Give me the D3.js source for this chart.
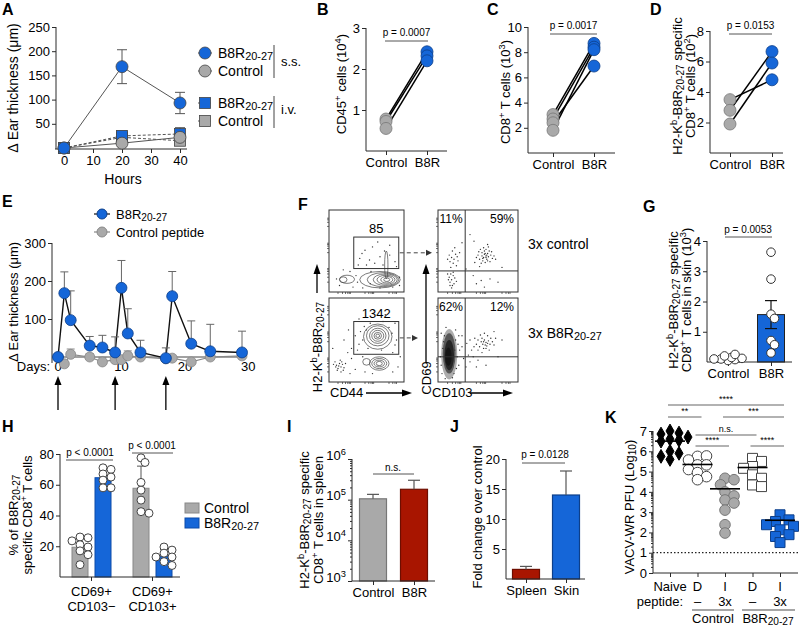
<!DOCTYPE html>
<html><head><meta charset="utf-8">
<script src="https://cdn.jsdelivr.net/npm/d3@7"></script>
<style>
body{margin:0;background:#fff;}
svg{font-family:"Liberation Sans",Arial,Helvetica,sans-serif;}
</style></head><body>
<svg id="c" width="800" height="629"></svg>
<script>
// ================= DATA =================
// Panel A
const hoursA = [0, 20, 40];
const aSsB8R = [0, 168, 93];
const aSsB8RErr = [0, 35, 22];
const aSsCtrl = [0, 10, 22];
const aSsCtrlErr = [0, 3, 6];
const aIvB8R = [0, 25, 29];
const aIvB8RErr = [0, 10, 13];
const aIvCtrl = [0, 22, 15];
const aIvCtrlErr = [0, 9, 8];
const aTicksY = [50, 100, 150, 200, 250];
const aTicksX = [0, 10, 20, 30, 40];
// Panel B
const pairCats = ["Control", "B8R"];
const bCtrl = [0.78, 0.72, 0.55];
const bB8R = [2.42, 2.32, 2.20];
const bTicks = [1, 2, 3];
// Panel C
const cCtrl = [3.05, 2.7, 2.4, 1.8];
const cB8R = [8.7, 8.4, 6.9, 8.2];
const cTicks = [2, 4, 6, 8, 10];
// Panel D
const dCtrl = [3.5, 2.8, 1.9];
const dB8R = [4.8, 6.65, 5.9];
const dTicks = [2, 4, 6, 8];
// Panel E
const daysE = [0, 1, 2, 5, 7, 9, 10, 11, 13, 17, 18, 21, 24, 29];
const eB8R = [0, 168, 97, 30, 25, 12, 182, 62, 12, -3, 160, 35, 15, 12];
const eB8RErr = [0, 56, 77, 24, 32, 41, 72, 65, 32, 27, 65, 60, 71, 56];
const eCtrl = [0, -18, 7, 0, -13, -7, -7, 3, 0, -5, -3, -13, 0, 3];
const eCtrlErr = [0, 0, 14, 9, 12, 0, 0, 13, 0, 0, 0, 0, 0, 0];
const eTicksY = [100, 200, 300];
const eTicksX = [0, 10, 20, 30];
const eArrowDays = [0, 9, 17];
// Panel F (flow cytometry, axis units 0-100)
const fGateCounts = ["85", "1342"];
const fGates = [[33, 93, 28.6, 67], [33, 93, 33, 72]];
const fQuad = [[34, 25.7], [34, 30]];
const fPct = [["11%", "59%"], ["62%", "12%"]];
const fRowLabels = ["3x control", "3x B8R_{20-27}"];
// contour rings [cx, cy, rx, ry]
const fContTop = [[68,15,27,10],[72,15,21,8.5],[75,15,16,7],[76,15,12,5.5],[77,15,8,4],[77,15,4,2.2],
  [24,15.5,10,5],[19,15,5,3.5],[76.4,33,2.2,17]];
const fContBot = [[65,54,19,15],[65,55,15,12],[65,55,11,9],[65,55,8,6.5],[65,55,5,4],[65,55,2.5,2],
  [67,22,13,8],[67,22,10,6],[67,22,7,4],[67,22,4,2.5],[50,24,5,4]];
const fDotsTL = [[41,41],[54,39],[68,43],[81,45],[88,37],[50,33],[61,35],[72,33],[48,51],[81,57],[65,61],
  [39,33],[28,25],[10,16],[14,8],[32,6],[45,5],[68,5],[85,6],[94,18],[94,8],[56,25],[36,20],[19,27],[90,31],
  [44,47],[58,55],[74,50],[38,12],[55,10]];
const fDotsBL = [[10,20],[14,22],[16,18],[12,16],[18,21],[8,24],[15,26],[20,17],[11,14],[17,24],[13,19],[22,22],
  [9,18],[19,14],[6,21],[16,12],[30,40],[40,45],[25,35],[45,30],[35,55],[50,62],[55,70],[80,65],[90,50],[85,35],
  [95,30],[75,80],[60,85],[40,75],[30,28],[48,12],[58,10],[85,12],[92,18],[35,15],[28,10],[5,40],[20,50],[45,50],
  [88,70],[70,38],[52,40],[42,60],[88,44],[26,62],[72,72],[47,66],[84,58],[38,38]];
const fDotsTR = [[50,45],[52,40],[55,48],[57,42],[58,46],[60,44],[61,40],[62,47],[63,43],[64,50],[56,38],[59,36],
  [54,35],[66,45],[68,41],[53,52],[57,54],[60,52],[62,38],[65,37],[48,42],[51,49],[58,50],[63,55],[67,49],[70,44],
  [55,44],[60,42],[59,47],[61,45],[56,41],[46,36],[72,40],[62,58],[52,31],
  [14,45],[17,42],[20,40],[22,46],[18,50],[15,37],[24,43],[19,35],[12,40],[21,54],[25,38],[16,30],[27,48],[23,32],
  [14,18],[17,15],[19,20],[15,12],[20,10],[16,22],[18,8],[13,15],[21,17],[17,5],[12,22],[23,13],[15,8],[19,24],
  [48,10],[54,14],[65,16],[58,6],[75,12],[44,20],[30,60],[40,70],[80,30],[45,62],[35,28]];
const fDotsBR = [[4,20],[6,40],[8,55],[22,50],[24,30],[20,10],[25,45],[5,10],[22,62],[10,65],[18,5],[26,20],[3,30],[27,38],
  [7,48],[21,38],[9,4],[23,16],[4,58],[26,55],
  [48,45],[50,50],[52,42],[54,48],[55,52],[56,45],[57,40],[58,50],[60,47],[61,43],[62,55],[63,49],[65,45],[66,52],
  [53,56],[58,58],[60,40],[64,38],[68,48],[70,44],[50,38],[46,52],[55,35],[59,44],[62,46],[57,48],[72,52],[45,42],
  [30,42],[36,46],[40,50],[42,38],[32,28],[40,24],[50,26],[38,32],[44,30],[30,55],[35,18],[48,18],[60,20],[75,30],
  [80,50],[70,60]];
const fBlob = [[14,33,10,30],[14,34,8,24],[14,32,6,18],[13,30,4,11]];
const fTicks = [12, 18, 22, 25, 27, 28.5, 48, 53, 56, 58, 59.5, 80, 85, 88, 90];
// Panel G
const gCats = ["Control", "B8R"];
const gCtrl = [0.05, 0.08, 0.1, 0.12, 0.15, 0.2, 0.25, 0.1];
const gB8R = [3.63, 2.74, 1.58, 1.44, 0.71, 0.57, 0.30];
const gTicks = [1, 2, 3, 4];
// Panel H
const hGroups = [["CD69+", "CD103−"], ["CD69+", "CD103+"]];
const hSeries = ["Control", "B8R_{20-27}"];
const hCtrl1 = [26, 25.5, 23.5, 21, 19.5, 17, 14.5, 8];
const hB8R1 = [71, 70, 67, 65, 63, 58, 58];
const hCtrl2 = [77.5, 74.5, 61.5, 56.5, 50, 42.5, 41.5];
const hB8R2 = [19.5, 17.5, 15.5, 13, 13, 10, 7.5];
const hTicks = [20, 40, 60, 80];
const hP = ["p < 0.0001", "p < 0.0001"];
// Panel I
const iCats = ["Control", "B8R"];
const iVals = [1.05e5, 1.8e5];
const iErr = [0.3e5, 1.2e5];
const iTicks = [1e3, 1e4, 1e5, 1e6];
// Panel J
const jCats = ["Spleen", "Skin"];
const jVals = [1.6, 14];
const jErr = [0.5, 4];
const jTicks = [5, 10, 15, 20];
// Panel K
const kGroups = ["Naive", "DC", "IC", "DB", "IB"];
const kRow1 = ["Naive", "D", "I", "D", "I"];
const kRow2 = ["", "–", "3x", "–", "3x"];
const kNaive = [7.0, 6.9, 6.85, 6.7, 6.6, 6.55, 6.5, 6.0, 5.9, 5.75, 5.6];
const kDC = [5.75, 5.77, 5.57, 5.33, 5.33, 5.1, 4.95, 4.75, 4.6];
const kIC = [4.67, 4.6, 4.35, 4.0, 3.8, 3.6, 3.45, 3.1, 2.38, 1.97];
const kDB = [5.65, 5.5, 5.25, 5.16, 4.84, 4.67, 4.34, 4.26];
const kIB = [2.87, 2.62, 2.54, 2.38, 2.13, 2.3, 1.89, 1.8, 1.5];
const kMean = [6.5, 5.35, 4.15, 5.2, 2.6];
const kTicks = [0, 1, 2, 3, 4, 5, 6, 7];
const kSig = [[0, 4, "****"], [0, 1, "**"], [2, 4, "***"], [1, 3, "n.s."], [1, 2, "****"], [3, 4, "****"]];

// ================= HELPERS =================
const svg = d3.select('#c');
svg.append('rect').attr('width', 800).attr('height', 629).attr('fill', '#fff');
const BLUE = '#1566d8', GRAY = '#a9a9a9', RED = '#a81500', DARK = '#2a2a2a';

function rich(t, str, size) {
  const parts = str.split(/(\^\{[^}]*\}|_\{[^}]*\})/).filter(p => p !== '');
  let cur = 0;
  parts.forEach(p => {
    let d = 0, fs = size, txt = p;
    if (p.startsWith('^{')) { d = -0.38 * size; fs = 0.72 * size; txt = p.slice(2, -1); }
    else if (p.startsWith('_{')) { d = 0.15 * size; fs = 0.78 * size; txt = p.slice(2, -1); }
    t.append('tspan').attr('dy', (d - cur).toFixed(2)).attr('font-size', fs).text(txt);
    cur = d;
  });
  return t;
}
function label(g, x, y, str, opt = {}) {
  const size = opt.size || 13;
  const t = g.append('text').attr('x', x).attr('y', y).attr('font-size', size)
    .attr('text-anchor', opt.anchor || 'middle').attr('fill', opt.fill || '#000');
  if (opt.rotate) t.attr('transform', `rotate(${opt.rotate},${x},${y})`);
  if (opt.weight) t.attr('font-weight', opt.weight);
  rich(t, str, size);
  return t;
}
function hline(g, x1, x2, y, color, w, dash) {
  const l = g.append('line').attr('x1', x1).attr('x2', x2).attr('y1', y).attr('y2', y)
    .attr('stroke', color || DARK).attr('stroke-width', w || 1);
  if (dash) l.attr('stroke-dasharray', dash);
  return l;
}
function vline(g, x, y1, y2, color, w) {
  return g.append('line').attr('x1', x).attr('x2', x).attr('y1', y1).attr('y2', y2)
    .attr('stroke', color || DARK).attr('stroke-width', w || 1);
}
function yAxis(g, scale, x, ticks, y0, y1, opt = {}) {
  const a = g.append('g').attr('transform', `translate(${x},0)`)
    .call(d3.axisLeft(scale).tickValues(ticks).tickSize(opt.tick || 4).tickSizeOuter(0)
      .tickPadding(opt.pad || 2).tickFormat(opt.fmt || (d => d)));
  a.attr('font-family', null).attr('font-size', opt.size || 13);
  a.select('.domain').remove();
  a.selectAll('.tick line').attr('stroke', DARK);
  a.selectAll('.tick text').attr('fill', '#000');
  a.append('line').attr('y1', y0).attr('y2', y1).attr('stroke', DARK);
  return a;
}
function xAxis(g, scale, y, ticks, x0, x1, opt = {}) {
  const a = g.append('g').attr('transform', `translate(0,${y})`)
    .call(d3.axisBottom(scale).tickValues(ticks).tickSize(opt.tick || 4).tickSizeOuter(0)
      .tickPadding(opt.pad || 3).tickFormat(opt.fmt || (d => d)));
  a.attr('font-family', null).attr('font-size', opt.size || 13);
  a.select('.domain').remove();
  a.selectAll('.tick line').attr('stroke', DARK);
  a.selectAll('.tick text').attr('fill', '#000');
  a.append('line').attr('x1', x0).attr('x2', x1).attr('stroke', DARK);
  return a;
}
function errBar(g, x, yFrom, yTo, cap, color, w) {
  vline(g, x, yFrom, yTo, color, w || 1);
  hline(g, x - cap / 2, x + cap / 2, yTo, color, w || 1);
}
// simple beeswarm layout; ov < 1 allows partial overlap
function swarm(vals, ys, cx, r, step, ov) {
  const placed = [];
  const f = ov || 0.9;
  return vals.map(v => {
    const y = ys(v); let x = cx;
    for (let k = 0; k < 60; k++) {
      const off = k === 0 ? 0 : (k % 2 ? 1 : -1) * Math.ceil(k / 2) * step;
      const cand = cx + off;
      if (placed.every(p => (p.x - cand) ** 2 + (p.y - y) ** 2 >= (2 * r * f) ** 2)) { x = cand; break; }
    }
    const p = { x, y, v }; placed.push(p); return p;
  });
}
function letter(x, y, s) { label(svg, x, y, s, { size: 16, weight: 'bold', anchor: 'start' }); }

// ================= PANEL A =================
{
  const g = svg.append('g');
  const x = d3.scaleLinear().domain([0, 40]).range([64, 180]);
  const y = d3.scaleLinear().domain([0, 250]).range([148, 27]);
  yAxis(g, y, 56, aTicksY, 27, 149);
  xAxis(g, x, 149, aTicksX, 55, 187);
  label(g, 123, 184, 'Hours', { size: 14 });
  label(g, 18, 88, 'Δ Ear thickness (μm)', { size: 14, rotate: -90 });
  const series = [
    { v: aIvCtrl, e: aIvCtrlErr, shape: 'square', fill: GRAY, dash: '3,2' },
    { v: aIvB8R, e: aIvB8RErr, shape: 'square', fill: BLUE, dash: '3,2' },
    { v: aSsCtrl, e: aSsCtrlErr, shape: 'circle', fill: GRAY, dash: null },
    { v: aSsB8R, e: aSsB8RErr, shape: 'circle', fill: BLUE, dash: null }
  ];
  const line = d3.line().x((d, i) => x(hoursA[i])).y(d => y(d));
  series.forEach(s => {
    const p = g.append('path').attr('d', line(s.v)).attr('fill', 'none').attr('stroke', '#555').attr('stroke-width', 1);
    if (s.dash) p.attr('stroke-dasharray', s.dash);
  });
  series.forEach(s => {
    s.v.forEach((v, i) => {
      if (s.e[i] > 0) {
        errBar(g, x(hoursA[i]), y(v), y(v + s.e[i]), 10, '#555');
        errBar(g, x(hoursA[i]), y(v), y(v - s.e[i]), 10, '#555');
      }
    });
  });
  series.forEach(s => {
    s.v.forEach((v, i) => {
      if (s.shape === 'circle') g.append('circle').attr('cx', x(hoursA[i])).attr('cy', y(v)).attr('r', 6)
        .attr('fill', s.fill).attr('stroke', '#444').attr('stroke-width', 0.8);
      else g.append('rect').attr('x', x(hoursA[i]) - 5.5).attr('y', y(v) - 5.5).attr('width', 11).attr('height', 11)
        .attr('fill', s.fill).attr('stroke', '#444').attr('stroke-width', 0.8);
    });
  });
  // legend
  const leg = [
    { y: 53, shape: 'circle', fill: BLUE, dash: null, t: 'B8R_{20-27}' },
    { y: 71, shape: 'circle', fill: GRAY, dash: null, t: 'Control' },
    { y: 103, shape: 'square', fill: BLUE, dash: '2,1.5', t: 'B8R_{20-27}' },
    { y: 121, shape: 'square', fill: GRAY, dash: '2,1.5', t: 'Control' }
  ];
  leg.forEach(l => {
    hline(g, 198, 212, l.y, '#555', 1, l.dash);
    if (l.shape === 'circle') g.append('circle').attr('cx', 205).attr('cy', l.y).attr('r', 6).attr('fill', l.fill).attr('stroke', '#444').attr('stroke-width', 0.8);
    else g.append('rect').attr('x', 199.5).attr('y', l.y - 5.5).attr('width', 11).attr('height', 11).attr('fill', l.fill).attr('stroke', '#444').attr('stroke-width', 0.8);
    label(g, 218, l.y + 5, l.t, { size: 14, anchor: 'start' });
  });
  vline(g, 274, 45, 78, '#444'); vline(g, 274, 96, 128, '#444');
  label(g, 281, 66, 's.s.', { size: 13, anchor: 'start' });
  label(g, 281, 114, 'i.v.', { size: 13, anchor: 'start' });
}
letter(2, 15, 'A');

// ================= PANELS B, C, D (paired) =================
function paired(cfg) {
  const g = svg.append('g');
  const y = d3.scaleLinear().domain(cfg.dom).range([cfg.y0, cfg.yTop]);
  const x = d3.scalePoint().domain(pairCats).range(cfg.xs);
  yAxis(g, y, cfg.ax, cfg.ticks, cfg.yTop, cfg.y0);
  xAxis(g, x, cfg.y0, pairCats, cfg.ax, cfg.axEnd);
  cfg.ctrl.forEach((v, i) => {
    g.append('line').attr('x1', x('Control')).attr('y1', y(v)).attr('x2', x('B8R')).attr('y2', y(cfg.b8r[i]))
      .attr('stroke', '#000').attr('stroke-width', 1.5);
  });
  cfg.ctrl.forEach(v => g.append('circle').attr('cx', x('Control')).attr('cy', y(v)).attr('r', 6)
    .attr('fill', GRAY).attr('stroke', '#777').attr('stroke-width', 0.8));
  cfg.b8r.forEach(v => g.append('circle').attr('cx', x('B8R')).attr('cy', y(v)).attr('r', 6)
    .attr('fill', BLUE).attr('stroke', '#0d3f8a').attr('stroke-width', 0.8));
  label(g, (cfg.pl[0] + cfg.pl[1]) / 2, cfg.pY - 5, cfg.p, { size: 10 });
  hline(g, cfg.pl[0], cfg.pl[1], cfg.pY, '#555', 1);
  cfg.labels.forEach(l => label(g, l[0], cfg.labY, l[1], { size: 13, rotate: -90 }));
}
paired({ dom: [0, 3], y0: 151, yTop: 28, xs: [386, 427], ax: 366, axEnd: 447, ticks: bTicks,
  ctrl: bCtrl, b8r: bB8R, p: 'p = 0.0007', pl: [385, 428], pY: 41, labY: 84, labels: [[346, 'CD45^{+} cells (10^{4})']] });
paired({ dom: [0, 10], y0: 153, yTop: 27, xs: [553, 594], ax: 528, axEnd: 615, ticks: cTicks,
  ctrl: cCtrl, b8r: cB8R, p: 'p = 0.0017', pl: [550, 597], pY: 34, labY: 92, labels: [[510, 'CD8^{+} T cells (10^{3})']] });
paired({ dom: [0, 8], y0: 153, yTop: 31, xs: [730, 772], ax: 710, axEnd: 783, ticks: dTicks,
  ctrl: dCtrl, b8r: dB8R, p: 'p = 0.0153', pl: [729, 772], pY: 34, labY: 86,
  labels: [[682, 'H2-K^{b}-B8R_{20-27} specific'], [695, 'CD8^{+} T cells (10^{2})']] });
letter(317, 15, 'B'); letter(487, 15, 'C'); letter(650, 15, 'D');

// ================= PANEL E =================
{
  const g = svg.append('g');
  const x = d3.scaleLinear().domain([0, 29]).range([58, 242]);
  const y = d3.scaleLinear().domain([0, 300]).range([357, 243]);
  yAxis(g, y, 52, eTicksY, 243, 363);
  hline(g, 52, 246, y(0), '#444', 1);
  label(g, 50, 371, 'Days:', { size: 13, anchor: 'end' });
  eTicksX.forEach(t => label(g, x(t), 371, String(t), { size: 13 }));
  label(g, 18, 302, 'Δ Ear thickness (μm)', { size: 13, rotate: -90 });
  const lineB = d3.line().x((d, i) => x(daysE[i])).y(d => y(d));
  g.append('path').attr('d', lineB(eCtrl)).attr('fill', 'none').attr('stroke', '#888').attr('stroke-width', 1.2);
  g.append('path').attr('d', lineB(eB8R)).attr('fill', 'none').attr('stroke', '#111').attr('stroke-width', 1.4);
  eB8R.forEach((v, i) => { if (eB8RErr[i] > 0) errBar(g, x(daysE[i]), y(v), y(v + eB8RErr[i]), 8, '#666'); });
  eCtrl.forEach((v, i) => { if (eCtrlErr[i] > 0) errBar(g, x(daysE[i]), y(v), y(v + eCtrlErr[i]), 8, '#888'); });
  eCtrl.forEach((v, i) => g.append('circle').attr('cx', x(daysE[i])).attr('cy', y(v)).attr('r', 5)
    .attr('fill', GRAY).attr('stroke', '#888').attr('stroke-width', 0.8));
  eB8R.forEach((v, i) => g.append('circle').attr('cx', x(daysE[i])).attr('cy', y(v)).attr('r', 5.5)
    .attr('fill', BLUE).attr('stroke', '#0d3f8a').attr('stroke-width', 0.8));
  hline(g, 94, 110, 214, '#111', 1.2);
  g.append('circle').attr('cx', 102).attr('cy', 214).attr('r', 5).attr('fill', BLUE).attr('stroke', '#0d3f8a');
  label(g, 116, 219, 'B8R_{20-27}', { size: 13, anchor: 'start' });
  hline(g, 94, 110, 232, '#888', 1.2);
  g.append('circle').attr('cx', 102).attr('cy', 232).attr('r', 5).attr('fill', GRAY).attr('stroke', '#888');
  label(g, 116, 237, 'Control peptide', { size: 13, anchor: 'start' });
  eArrowDays.forEach(d => {
    vline(g, x(d), 410, 383, '#000', 1.3);
    g.append('path').attr('d', `M${x(d) - 3.5},${385} L${x(d)},${376} L${x(d) + 3.5},${385} Z`).attr('fill', '#000');
  });
}
letter(2, 207, 'E');

// ================= PANEL F =================
{
  const g = svg.append('g');
  const boxes = [
    { x0: 329, x1: 404, y0: 210, y1: 292 }, { x0: 329, x1: 404, y0: 298, y1: 382 },
    { x0: 438, x1: 518, y0: 210, y1: 292 }, { x0: 438, x1: 518, y0: 298, y1: 382 }
  ];
  const sc = boxes.map(b => ({
    x: d3.scaleLinear().domain([0, 100]).range([b.x0, b.x1]),
    y: d3.scaleLinear().domain([0, 100]).range([b.y1, b.y0]), b
  }));
  const dot = (s, pts) => pts.forEach(p => g.append('circle').attr('cx', s.x(p[0])).attr('cy', s.y(p[1])).attr('r', 0.7).attr('fill', '#333'));
  const rings = (s, rs) => rs.forEach(r => g.append('ellipse').attr('cx', s.x(r[0])).attr('cy', s.y(r[1]))
    .attr('rx', s.x(r[2]) - s.x(0)).attr('ry', s.y(0) - s.y(r[3])).attr('fill', 'none').attr('stroke', '#444').attr('stroke-width', 0.7));
  dot(sc[0], fDotsTL); rings(sc[0], fContTop);
  dot(sc[1], fDotsBL); rings(sc[1], fContBot);
  dot(sc[2], fDotsTR);
  fBlob.forEach((r, i) => g.append('ellipse').attr('cx', sc[3].x(r[0])).attr('cy', sc[3].y(r[1]))
    .attr('rx', sc[3].x(r[2]) - sc[3].x(0)).attr('ry', sc[3].y(0) - sc[3].y(r[3]))
    .attr('fill', '#111').attr('opacity', [0.35, 0.55, 0.7, 0.8][i]));
  dot(sc[3], fDotsBR);
  sc.forEach(s => {
    const b = s.b;
    g.append('rect').attr('x', b.x0).attr('y', b.y0).attr('width', b.x1 - b.x0).attr('height', b.y1 - b.y0)
      .attr('fill', 'none').attr('stroke', '#333').attr('stroke-width', 1);
    fTicks.forEach(t => {
      vline(g, s.x(t), b.y1, b.y1 + 2, '#333', 0.7);
      hline(g, b.x0 - 2, b.x0, s.y(t), '#333', 0.7);
    });
  });
  fGates.forEach((gt, i) => {
    const s = sc[i];
    g.append('rect').attr('x', s.x(gt[0])).attr('y', s.y(gt[3])).attr('width', s.x(gt[1]) - s.x(gt[0]))
      .attr('height', s.y(gt[2]) - s.y(gt[3])).attr('fill', 'none').attr('stroke', '#333').attr('stroke-width', 1);
    label(g, s.x((gt[0] + gt[1]) / 2), s.y(gt[3]) - 4, fGateCounts[i], { size: 13 });
    const my = s.y((gt[2] + gt[3]) / 2);
    const xe = i === 0 ? 430 : 416;
    hline(g, s.x(gt[1]) + 1, xe - 3, my, '#444', 1, '4,3');
    g.append('path').attr('d', `M${xe - 4},${my - 3} L${xe + 2},${my} L${xe - 4},${my + 3} Z`).attr('fill', '#333');
  });
  [2, 3].forEach((k, i) => {
    const s = sc[k], q = fQuad[i];
    vline(g, s.x(q[0]), s.b.y0, s.b.y1, '#333', 1);
    hline(g, s.b.x0, s.b.x1, s.y(q[1]), '#333', 1);
    label(g, s.x(10) + 5, s.b.y0 + 13, fPct[i][0], { size: 12 });
    label(g, s.x(80), s.b.y0 + 13, fPct[i][1], { size: 12 });
    label(g, 528, (s.b.y0 + s.b.y1) / 2 - 2, fRowLabels[i], { size: 14, anchor: 'start' });
  });
  label(g, 322, 347, 'H2-K^{b}-B8R_{20-27}', { size: 13, rotate: -90 });
  vline(g, 317, 293, 272, '#000', 1.3);
  g.append('path').attr('d', 'M313.5,274 L317,264 L320.5,274 Z').attr('fill', '#000');
  label(g, 330, 397, 'CD44', { size: 13, anchor: 'start' });
  hline(g, 366, 404, 393, '#000', 1.3);
  g.append('path').attr('d', 'M402,389.5 L412,393 L402,396.5 Z').attr('fill', '#000');
  label(g, 431, 378, 'CD69', { size: 13, rotate: -90 });
  vline(g, 426, 362, 272, '#000', 1.3);
  g.append('path').attr('d', 'M422.5,274 L426,264 L429.5,274 Z').attr('fill', '#000');
  label(g, 432, 397, 'CD103', { size: 13, anchor: 'start' });
  hline(g, 470, 505, 393, '#000', 1.3);
  g.append('path').attr('d', 'M503,389.5 L513,393 L503,396.5 Z').attr('fill', '#000');
}
letter(298, 210, 'F');

// ================= PANEL G =================
{
  const g = svg.append('g');
  const y = d3.scaleLinear().domain([0, 4]).range([362, 241]);
  const x = d3.scalePoint().domain(gCats).range([728, 771]);
  const bw = 27;
  const means = [d3.mean(gCtrl), d3.mean(gB8R)];
  const sem = [d3.deviation(gCtrl) / Math.sqrt(gCtrl.length), d3.deviation(gB8R) / Math.sqrt(gB8R.length)];
  g.append('rect').attr('x', x('Control') - bw / 2).attr('y', y(means[0])).attr('width', bw).attr('height', y(0) - y(means[0]))
    .attr('fill', '#e8e8e8').attr('stroke', '#555');
  g.append('rect').attr('x', x('B8R') - bw / 2).attr('y', y(means[1])).attr('width', bw).attr('height', y(0) - y(means[1]))
    .attr('fill', BLUE).attr('stroke', '#222');
  vline(g, x('B8R'), y(means[1] - sem[1]), y(means[1] + sem[1]), '#111', 1.2);
  hline(g, x('B8R') - 6, x('B8R') + 6, y(means[1] + sem[1]), '#111', 1.2);
  hline(g, x('B8R') - 6, x('B8R') + 6, y(means[1] - sem[1]), '#111', 1.2);
  yAxis(g, y, 707, gTicks, 241, 362);
  xAxis(g, x, 362, gCats, 707, 792);
  [[gCtrl, 'Control', 0.45], [gB8R, 'B8R', 0.6]].forEach(([vals, c, ov]) => {
    swarm(vals, y, x(c), 4.3, 3.5, ov).forEach(p => g.append('circle').attr('cx', p.x).attr('cy', p.y).attr('r', 4.3)
      .attr('fill', '#fff').attr('stroke', '#333').attr('stroke-width', 1));
  });
  label(g, 748, 233, 'p = 0.0053', { size: 10 });
  hline(g, 725, 772, 237, '#555', 1);
  label(g, 678, 300, 'H2-K^{b}-B8R_{20-27} specific', { size: 13, rotate: -90 });
  label(g, 691, 300, 'CD8^{+} T cells in skin (10^{3})', { size: 13, rotate: -90 });
}
letter(643, 212, 'G');

// ================= PANEL H =================
{
  const g = svg.append('g');
  const y = d3.scaleLinear().domain([0, 80]).range([577, 454]);
  const gc = [91.5, 152.5];
  const bw = 16;
  const sets = [[hCtrl1, gc[0] - 11.5, GRAY], [hB8R1, gc[0] + 11.5, BLUE], [hCtrl2, gc[1] - 11.5, GRAY], [hB8R2, gc[1] + 11.5, BLUE]];
  sets.forEach(([vals, cx, col]) => {
    const m = d3.mean(vals), sd = d3.deviation(vals);
    g.append('rect').attr('x', cx - bw / 2).attr('y', y(m)).attr('width', bw).attr('height', y(0) - y(m))
      .attr('fill', col).attr('stroke', col === GRAY ? '#888' : '#0d4aa8');
    errBar(g, cx, y(m), y(m + sd), 8, '#555', 1);
  });
  yAxis(g, y, 60, hTicks, 454, 577);
  xAxis(g, d3.scaleLinear().domain([0, 1]).range([0, 1]), 577, [], 60, 180);
  sets.forEach(([vals, cx]) => {
    swarm(vals, y, cx, 4, 4, 0.75).forEach(p => g.append('circle').attr('cx', p.x).attr('cy', p.y).attr('r', 4)
      .attr('fill', '#fff').attr('stroke', '#444').attr('stroke-width', 1));
  });
  hGroups.forEach((lines, i) => {
    vline(g, gc[i], 577, 581, DARK);
    label(g, gc[i], 596, lines[0], { size: 13 });
    label(g, gc[i], 611, lines[1], { size: 13 });
  });
  label(g, 90, 456, hP[0], { size: 10 }); hline(g, 66, 113, 460, '#555');
  label(g, 152, 449, hP[1], { size: 10 }); hline(g, 132, 173, 453, '#555');
  label(g, 18, 515, '% of B8R_{20-27}', { size: 13, rotate: -90 });
  label(g, 32, 515, 'specific CD8^{+} T cells', { size: 13, rotate: -90 });
  [[GRAY, '#888', 508], [BLUE, '#0d4aa8', 523]].forEach(([f, s, yy], i) => {
    g.append('rect').attr('x', 185).attr('y', yy - 5).attr('width', 14).attr('height', 10).attr('fill', f).attr('stroke', s);
    label(g, 204, yy + 5, hSeries[i], { size: 14, anchor: 'start' });
  });
}
letter(2, 432, 'H');

// ================= PANEL I =================
{
  const g = svg.append('g');
  const y = d3.scaleLog().domain([1e3, 1e6]).range([581, 459]);
  const x = d3.scalePoint().domain(iCats).range([373, 414]);
  const bw = 27;
  iVals.forEach((v, i) => {
    const cx = x(iCats[i]);
    g.append('rect').attr('x', cx - bw / 2).attr('y', y(v)).attr('width', bw).attr('height', y(1e3) - y(v))
      .attr('fill', i === 0 ? GRAY : RED).attr('stroke', i === 0 ? '#777' : '#6e0e00').attr('stroke-width', 1.2);
    errBar(g, cx, y(v), y(v + iErr[i]), 12, '#555', 1.2);
  });
  const minors = [];
  [1e3, 1e4, 1e5].forEach(d => { for (let k = 2; k <= 9; k++) minors.push(d * k); });
  g.append('g').attr('transform', 'translate(352,0)').call(d3.axisLeft(y).tickValues(minors).tickSize(2).tickFormat(''))
    .call(a => { a.select('.domain').remove(); a.selectAll('line').attr('stroke', DARK); });
  const a = yAxis(g, y, 352, iTicks, 459, 581, { fmt: () => '' });
  a.selectAll('.tick text').each(function (d) { const t = d3.select(this); rich(t, '10^{' + Math.round(Math.log10(d)) + '}', 13); });
  xAxis(g, x, 581, iCats, 352, 435);
  label(g, 393, 471, 'n.s.', { size: 10 });
  hline(g, 373, 414, 474, '#555');
  label(g, 309, 520, 'H2-K^{b}-B8R_{20-27} specific', { size: 13, rotate: -90 });
  label(g, 323, 520, 'CD8^{+} T cells in spleen', { size: 13, rotate: -90 });
}
letter(287, 432, 'I');

// ================= PANEL J =================
{
  const g = svg.append('g');
  const y = d3.scaleLinear().domain([0, 20]).range([579, 459]);
  const x = d3.scalePoint().domain(jCats).range([526, 566]);
  const bw = 27;
  jVals.forEach((v, i) => {
    const cx = x(jCats[i]);
    g.append('rect').attr('x', cx - bw / 2).attr('y', y(v)).attr('width', bw).attr('height', y(0) - y(v))
      .attr('fill', i === 0 ? RED : BLUE).attr('stroke', i === 0 ? '#6e0e00' : '#0d3f8a').attr('stroke-width', 1.2);
    errBar(g, cx, y(v), y(v + jErr[i]), 12, '#555', 1.2);
  });
  yAxis(g, y, 506, jTicks, 459, 579);
  xAxis(g, x, 579, jCats, 506, 585);
  label(g, 545, 458, 'p = 0.0128', { size: 10 });
  hline(g, 522, 565, 463, '#555');
  label(g, 482, 517, 'Fold change over control', { size: 13, rotate: -90 });
}
letter(450, 432, 'J');

// ================= PANEL K =================
{
  const g = svg.append('g');
  const y = d3.scaleLinear().domain([0, 7]).range([573, 431]);
  const x = d3.scalePoint().domain(kGroups).range([670, 780]);
  const minors = [];
  for (let i = 0; i < 7; i++) for (let k = 2; k <= 9; k++) minors.push(i + Math.log10(k));
  g.append('g').attr('transform', 'translate(653,0)').call(d3.axisLeft(y).tickValues(minors).tickSize(2).tickFormat(''))
    .call(a => { a.select('.domain').remove(); a.selectAll('line').attr('stroke', DARK); });
  yAxis(g, y, 653, kTicks, 431, 573, { size: 13 });
  xAxis(g, x, 573, kGroups, 653, 798, { fmt: () => '' });
  hline(g, 653, 798, y(1), '#222', 1.2, '1.5,2');
  const sets = [
    [kNaive, 'diamond', '#000', '#000'], [kDC, 'circle', '#fff', '#444'], [kIC, 'circle', GRAY, '#777'],
    [kDB, 'square', '#fff', '#444'], [kIB, 'square', BLUE, '#0d3f8a']
  ];
  sets.forEach(([vals, shape, fill, stroke], i) => {
    const pts = swarm(vals, y, x(kGroups[i]), 5, 4.5, shape === 'diamond' ? 0.7 : 0.7);
    pts.forEach(p => {
      if (shape === 'circle') g.append('circle').attr('cx', p.x).attr('cy', p.y).attr('r', 5.3).attr('fill', fill).attr('stroke', stroke).attr('stroke-width', 1);
      else g.append('path').attr('transform', `translate(${p.x},${p.y})`)
        .attr('d', d3.symbol().type(shape === 'diamond' ? d3.symbolDiamond : d3.symbolSquare).size(shape === 'diamond' ? 55 : 100)())
        .attr('fill', fill).attr('stroke', stroke).attr('stroke-width', 1);
    });
    hline(g, x(kGroups[i]) - 15, x(kGroups[i]) + 15, y(kMean[i]), '#000', 1.6);
  });
  const levelY = [405, 417, 417, 435, 446, 446];
  kSig.forEach((s, i) => {
    const x1 = x(kGroups[s[0]]) - 2, x2 = x(kGroups[s[1]]) + 4;
    hline(g, x1, x2, levelY[i], '#666', 1.2);
    label(g, (x1 + x2) / 2, levelY[i] - 3, s[2], { size: 9 });
  });
  kRow1.forEach((t, i) => label(g, x(kGroups[i]), 591, t, { size: 13 }));
  label(g, 683, 606, 'peptide:', { size: 13, anchor: 'end' });
  kRow2.forEach((t, i) => { if (t) label(g, x(kGroups[i]), 606, t, { size: 13 }); });
  hline(g, 692, 734, 610, '#888', 1.5);
  hline(g, 742, 795, 610, '#888', 1.5);
  label(g, 713, 623, 'Control', { size: 13 });
  label(g, 768, 623, 'B8R_{20-27}', { size: 13 });
  label(g, 634, 507, 'VACV-WR PFU (Log_{10})', { size: 13, rotate: -90 });
}
letter(605, 423, 'K');
</script>
</body></html>
